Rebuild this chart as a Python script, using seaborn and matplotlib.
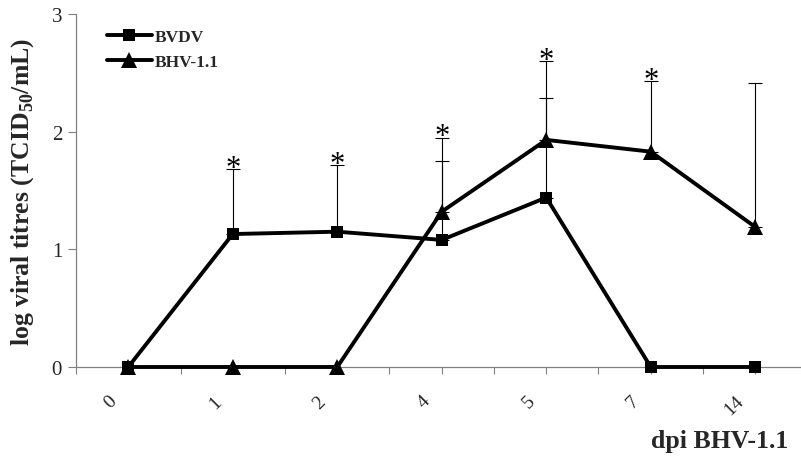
import numpy as np
import pandas as pd
import matplotlib
matplotlib.use("Agg")
import matplotlib.pyplot as plt
import matplotlib.transforms as mtransforms
import seaborn as sns

# Days post infection (categorical axis)
days = ["0", "1", "2", "4", "5", "7", "14"]

# Mean log viral titres and upper error for each virus
bvdv_mean = [0.0, 1.13, 1.15, 1.08, 1.44, 0.0, 0.0]
bvdv_err = [0.0, 0.55, 0.57, 0.67, 0.85, 0.0, 0.0]
bhv_mean = [0.0, 0.0, 0.0, 1.32, 1.93, 1.83, 1.19]
bhv_err = [0.0, 0.0, 0.0, 0.63, 0.67, 0.60, 1.22]

# Days flagged as significant
signif = ["1", "2", "4", "5", "7"]

series_names = ["BVDV", "BHV-1.1"]

sns.set_theme(style="ticks")
plt.rcParams["font.family"] = ["Liberation Serif", "DejaVu Serif"]
plt.rcParams["mathtext.fontset"] = "custom"
plt.rcParams["mathtext.rm"] = "Liberation Serif:bold"
plt.rcParams["mathtext.bf"] = "Liberation Serif:bold"

df = pd.DataFrame({
    "day": days * 2,
    "titre": bvdv_mean + bhv_mean,
    "virus": [series_names[0]] * len(days) + [series_names[1]] * len(days),
})

fig = plt.figure(figsize=(8.01, 4.60), dpi=100)
ax = fig.add_axes([76 / 801, 92 / 460, 731.5 / 801, 353 / 460])

pos = np.arange(len(days))

# Upward-only error bars drawn beneath the lines
for mean, err in [(bvdv_mean, bvdv_err), (bhv_mean, bhv_err)]:
    m = np.array(mean)
    e = np.array(err)
    keep = e > 0
    ax.errorbar(pos[keep], m[keep], yerr=[np.zeros(keep.sum()), e[keep]],
                fmt="none", ecolor="black", elinewidth=0.8, capsize=5,
                capthick=0.8, zorder=1)

sns.lineplot(data=df, x="day", y="titre", hue="virus", style="virus",
             markers={"BVDV": "s", "BHV-1.1": "^"}, dashes=False,
             palette={"BVDV": "black", "BHV-1.1": "black"},
             markersize=9, linewidth=2.8, markeredgewidth=0,
             sort=False, ax=ax, zorder=3)

# Let markers sitting on the x axis show in full; enlarge the triangles
for ln in ax.lines:
    ln.set_clip_on(False)
    if ln.get_marker() == "^":
        ln.set_markersize(11.5)
    elif ln.get_marker() == "s":
        ln.set_markersize(8.5)

# Significance asterisks above the highest error bar of each day
tops = np.maximum(np.array(bvdv_mean) + np.array(bvdv_err),
                  np.array(bhv_mean) + np.array(bhv_err))
for d in signif:
    i = days.index(d)
    ax.annotate("*", xy=(i, tops[i]), xytext=(0, -5),
                textcoords="offset points", ha="center", va="baseline",
                fontsize=22, color="black")

ax.set_xlim(-0.5, len(days) - 0.5)
ax.set_ylim(0, 3)
ax.set_yticks([0, 1, 2, 3])
ax.set_yticklabels(["0", "1", "2", "3"], fontsize=15)
ax.set_xticks(pos)
ax.set_xticks(np.arange(-0.5, len(days), 1.0), minor=True)
ax.tick_params(axis="x", which="major", length=5, width=0.8,
               color="#808080", pad=14)
ax.tick_params(axis="x", which="minor", length=5, width=0.8,
               color="#808080")
ax.tick_params(axis="y", length=6, width=0.8, color="#808080", pad=4)
ax.set_xticklabels(days, fontsize=14, rotation=45, ha="right",
                   va="center", rotation_mode="anchor")
# Nudge the slanted day labels down-left of their ticks
shift = mtransforms.ScaledTranslation(-14 / 100, -5 / 100, fig.dpi_scale_trans)
for lbl in ax.get_xticklabels():
    lbl.set_transform(lbl.get_transform() + shift)

for s in ["top", "right"]:
    ax.spines[s].set_visible(False)
for s in ["left", "bottom"]:
    ax.spines[s].set_color("#808080")
    ax.spines[s].set_linewidth(0.9)

ax.set_xlabel("")
ax.set_ylabel(r"log viral titres (TCID$_{50}$/mL)", fontsize=18.5,
              fontweight="bold")
ax.yaxis.set_label_coords(-40 / 731.5, 0.5)

fig.text(788 / 801, 1 - 442 / 460, "dpi BHV-1.1", ha="right", va="center",
         fontsize=18.5, fontweight="bold")

handles, labels = ax.get_legend_handles_labels()
for h in handles:
    if h.get_marker() == "^":
        h.set_markersize(11)
leg = ax.legend(handles, labels, loc="upper left",
                bbox_to_anchor=(15 / 731.5, 1 + 1 / 353), frameon=False,
                handlelength=2.6, handletextpad=0.15, labelspacing=0.55,
                prop={"family": "Liberation Serif", "weight": "bold",
                      "size": 12.5})

fig.savefig("out.png", dpi=100)
